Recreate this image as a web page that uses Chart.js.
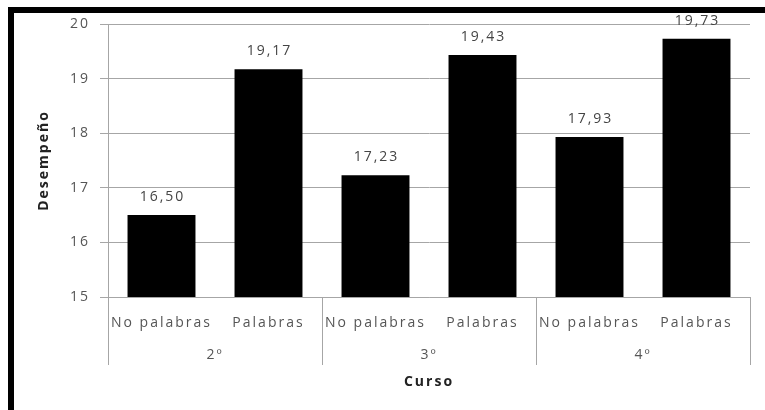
<!DOCTYPE html>
<html>
<head>
<meta charset="utf-8">
<script src="https://cdn.jsdelivr.net/npm/chart.js@4/dist/chart.umd.min.js"></script>
<style>
  html, body { margin: 0; padding: 0; background: #fff; }
  #frame {
    position: absolute; left: 8px; top: 7px;
    width: 751px; height: 397px;
    border-left: 6px solid #000; border-top: 6px solid #000;
    background: #fff;
  }
</style>
</head>
<body>
<div id="frame"><canvas id="chart" width="751" height="397"></canvas></div>
<script>
const subLabels = ['No palabras', 'Palabras', 'No palabras', 'Palabras', 'No palabras', 'Palabras'];
const cursos = ['2º', '3º', '4º'];
const desempeno = [16.50, 19.17, 17.23, 19.43, 17.93, 19.73];
const yTicks = [15, 16, 17, 18, 19, 20];

const FONT = '"Open Sans", "DejaVu Sans", sans-serif';
const GRID = '#a6a6a6';

// texto más espaciado, como en el original
const spacing = {
  id: 'spacing',
  beforeUpdate(chart) { chart.ctx.letterSpacing = '2px'; },
  beforeDraw(chart) { chart.ctx.letterSpacing = '2px'; }
};

// etiquetas de valor encima de cada barra
const valueLabels = {
  id: 'valueLabels',
  afterDatasetsDraw(chart) {
    const ctx = chart.ctx;
    const meta = chart.getDatasetMeta(0);
    ctx.save();
    ctx.font = '14px ' + FONT;
    ctx.fillStyle = '#444';
    ctx.textAlign = 'center';
    ctx.textBaseline = 'middle';
    meta.data.forEach((bar, i) => {
      ctx.fillText(desempeno[i].toFixed(2).replace('.', ','), bar.x + 1, bar.y - 18);
    });
    ctx.restore();
  }
};

new Chart(document.getElementById('chart'), {
  type: 'bar',
  data: {
    labels: subLabels,
    datasets: [{
      label: 'Desempeño',
      data: desempeno,
      backgroundColor: '#000',
      borderWidth: 0,
      barPercentage: 1,
      categoryPercentage: 0.635
    }]
  },
  options: {
    responsive: false,
    animation: false,
    layout: { padding: { left: 18, right: 15, top: 11, bottom: 20 } },
    plugins: {
      legend: { display: false },
      tooltip: { enabled: false }
    },
    scales: {
      x: {
        position: 'bottom',
        offset: true,
        afterFit: (scale) => { scale.height = 36; },
        grid: {
          drawOnChartArea: false,
          tickLength: 68,
          offset: true,
          color: (c) => (c.index === undefined || c.index % 2 === 0) ? GRID : 'rgba(0,0,0,0)'
        },
        border: { display: true, color: GRID },
        ticks: {
          padding: -50,
          autoSkip: false,
          maxRotation: 0,
          color: '#555',
          font: { family: FONT, size: 14 }
        }
      },
      x2: {
        type: 'category',
        position: 'bottom',
        labels: cursos,
        offset: true,
        afterFit: (scale) => { scale.height = 57; },
        grid: { display: false, drawTicks: false },
        border: { display: false },
        ticks: {
          padding: 14,
          color: '#555',
          font: { family: FONT, size: 14 }
        },
        title: {
          display: true,
          text: 'Curso',
          color: '#222',
          font: { family: FONT, size: 14, weight: 'bold' },
          padding: { top: 11, bottom: 0 }
        }
      },
      y: {
        min: yTicks[0],
        max: yTicks[yTicks.length - 1],
        afterBuildTicks: (scale) => { scale.ticks = yTicks.map(v => ({ value: v })); },
        afterFit: (scale) => {
          scale.width = 76;
          scale.paddingTop = 0;
          scale.paddingBottom = 0;
        },
        grid: { color: GRID, tickLength: 8 },
        border: { display: true, color: GRID },
        ticks: {
          padding: 10,
          color: '#555',
          font: { family: FONT, size: 14 }
        },
        title: {
          display: true,
          text: 'Desempeño',
          color: '#222',
          font: { family: FONT, size: 14, weight: 'bold' },
          padding: { top: 4, bottom: 0 }
        }
      }
    }
  },
  plugins: [spacing, valueLabels]
});
</script>
</body>
</html>
